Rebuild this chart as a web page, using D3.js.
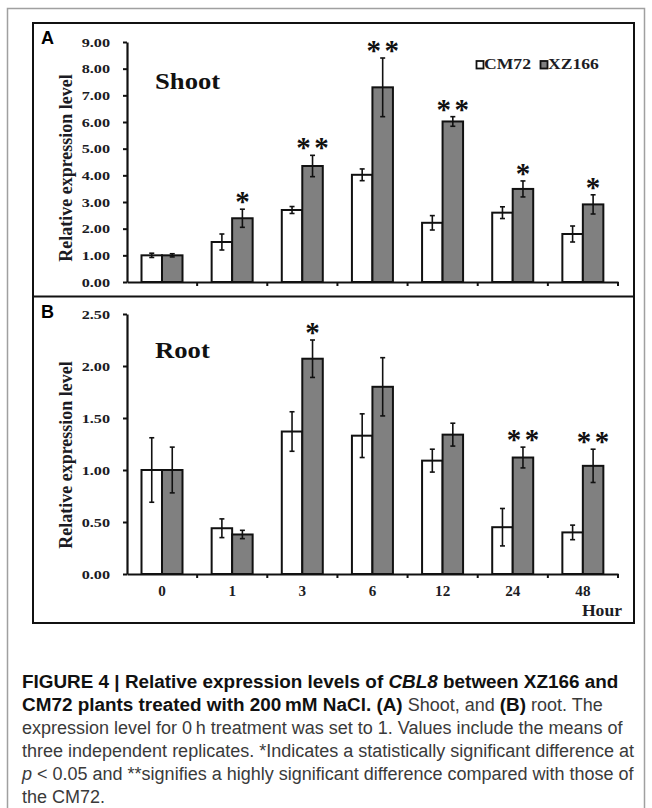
<!DOCTYPE html>
<html>
<head>
<meta charset="utf-8">
<script src="https://cdn.jsdelivr.net/npm/d3@7"></script>
<style>
    body { margin: 0; background: #ffffff; }
</style>
</head>
<body>
<svg id="chart" width="652" height="808"></svg>
<script>
const hours = ["0", "1", "3", "6", "12", "24", "48"];
const series = ["CM72", "XZ166"];

// panel A - shoot
const shootCM72 = [1.00, 1.50, 2.70, 4.02, 2.22, 2.60, 1.80];
const shootCM72Err = [0.08, 0.30, 0.13, 0.22, 0.27, 0.22, 0.30];
const shootXZ166 = [1.00, 2.39, 4.35, 7.30, 6.02, 3.49, 2.91];
const shootXZ166Err = [0.06, 0.34, 0.40, 1.10, 0.18, 0.30, 0.36];
const shootSig = ["", "*", "**", "**", "**", "*", "*"];
const shootTicks = [0, 1, 2, 3, 4, 5, 6, 7, 8, 9];

// panel B - root
const rootCM72 = [1.00, 0.44, 1.37, 1.33, 1.09, 0.45, 0.40];
const rootCM72Err = [0.31, 0.09, 0.19, 0.21, 0.11, 0.18, 0.07];
const rootXZ166 = [1.00, 0.38, 2.07, 1.80, 1.34, 1.12, 1.04];
const rootXZ166Err = [0.22, 0.04, 0.18, 0.28, 0.11, 0.10, 0.16];
const rootSig = ["", "", "*", "", "", "**", "**"];
const rootTicks = [0, 0.5, 1, 1.5, 2, 2.5];

const serif = "'Liberation Serif', 'Times New Roman', serif";
const sans = "'Liberation Sans', Arial, sans-serif";
const colors = { CM72: '#ffffff', XZ166: '#808080' };
const ink = '#1c1c24';

let svg = d3.select('#chart');

// the chart text in the figure is wider than plain Times, stretch it sideways
function stretch(sel, sx) {
    sel.each(function () {
        let t = d3.select(this);
        let x0 = +t.attr('x') || 0;
        t.attr('x', x0 / sx).attr('transform', 'scale(' + sx + ',1)');
    });
}

function serifText(sel, size) {
    return sel.attr('fill', ink)
        .style('font-family', serif)
        .style('font-weight', 'bold')
        .style('font-size', size + 'px');
}

// page frame and chart box
svg.append('path')
    .attr('d', 'M7.5,808 V8.5 H644.5 V808')
    .attr('fill', 'none')
    .attr('stroke', '#a0a0a0')
    .attr('stroke-width', 1.5);

svg.append('rect')
    .attr('x', 33).attr('y', 23)
    .attr('width', 601).attr('height', 600)
    .attr('fill', 'none')
    .attr('stroke', '#111')
    .attr('stroke-width', 2);

svg.append('line')
    .attr('x1', 33).attr('x2', 634)
    .attr('y1', 296.5).attr('y2', 296.5)
    .attr('stroke', '#111')
    .attr('stroke-width', 2);

let x = d3.scaleBand().domain(hours).range([127, 618]).padding(0);
let xSeries = d3.scaleBand().domain(series).range([14.5, 55.5]);

function drawPanel(opt) {
    let y = d3.scaleLinear().domain([0, opt.max]).range([opt.bottom, opt.top]);
    let g = svg.append('g');

    // y axis
    let yAxis = d3.axisLeft(y)
        .tickValues(opt.ticks)
        .tickFormat(d3.format('.2f'))
        .tickSize(4)
        .tickSizeOuter(0)
        .tickPadding(13);
    let ya = g.append('g').attr('transform', 'translate(127,0)').call(yAxis);
    ya.select('.domain').attr('stroke', '#111').attr('stroke-width', 2.2);
    ya.selectAll('.tick line').attr('stroke', '#111').attr('stroke-width', 2);
    serifText(ya.selectAll('.tick text'), 13.5);
    stretch(ya.selectAll('.tick text'), 1.2);

    // x axis, ticks sit on the group boundaries
    let xAxis = d3.axisBottom(x)
        .tickSize(0)
        .tickPadding(12)
        .tickFormat(d => opt.labels ? d : '');
    let xa = g.append('g').attr('transform', 'translate(0,' + opt.bottom + ')').call(xAxis);
    xa.select('.domain').attr('stroke', '#111').attr('stroke-width', 2.2);
    serifText(xa.selectAll('.tick text'), 14);
    stretch(xa.selectAll('.tick text'), 1.08);

    let bounds = hours.map(h => x(h)).concat([x.range()[1]]).slice(1);
    g.selectAll('.bound')
        .data(bounds)
        .enter()
        .append('line')
        .attr('x1', d => d).attr('x2', d => d)
        .attr('y1', opt.bottom).attr('y2', opt.bottom + 4)
        .attr('stroke', '#111')
        .attr('stroke-width', 2);

    let rows = hours.map(function (h, i) {
        return {
            hour: h,
            sig: opt.sig[i],
            vals: [
                { s: 'CM72', v: opt.cm[i], e: opt.cmErr[i] },
                { s: 'XZ166', v: opt.xz[i], e: opt.xzErr[i] }
            ]
        };
    });

    let groups = g.selectAll('.grp')
        .data(rows)
        .enter()
        .append('g')
        .attr('transform', d => 'translate(' + x(d.hour) + ',0)');

    groups.selectAll('rect')
        .data(d => d.vals)
        .enter()
        .append('rect')
        .attr('x', d => xSeries(d.s))
        .attr('y', d => y(d.v))
        .attr('width', xSeries.bandwidth())
        .attr('height', d => y(0) - y(d.v))
        .attr('fill', d => colors[d.s])
        .attr('stroke', '#111')
        .attr('stroke-width', 2);

    // error bars
    let err = groups.selectAll('.err')
        .data(d => d.vals)
        .enter()
        .append('g')
        .attr('transform', d => 'translate(' + (xSeries(d.s) + xSeries.bandwidth() / 2) + ',0)');
    err.append('line')
        .attr('y1', d => y(d.v - d.e)).attr('y2', d => y(d.v + d.e))
        .attr('stroke', '#111').attr('stroke-width', 1.6);
    err.append('line')
        .attr('x1', -2.5).attr('x2', 2.5)
        .attr('y1', d => y(d.v + d.e)).attr('y2', d => y(d.v + d.e))
        .attr('stroke', '#111').attr('stroke-width', 1.6);
    err.append('line')
        .attr('x1', -2.5).attr('x2', 2.5)
        .attr('y1', d => y(d.v - d.e)).attr('y2', d => y(d.v - d.e))
        .attr('stroke', '#111').attr('stroke-width', 1.6);

    // significance stars above the XZ166 bar
    groups.each(function (d) {
        let n = d.sig.length;
        if (!n) return;
        let top = y(d.vals[1].v + d.vals[1].e);
        let cx = xSeries('XZ166') + xSeries.bandwidth() / 2;
        for (let k = 0; k < n; k++) {
            d3.select(this).append('text')
                .attr('x', cx + (k - (n - 1) / 2) * 18)
                .attr('y', top + 2)
                .attr('text-anchor', 'middle')
                .attr('fill', '#111')
                .style('font-family', serif)
                .style('font-weight', 'bold')
                .style('font-size', '29px')
                .text('*');
        }
    });

    // y label
    serifText(svg.append('text'), 18)
        .attr('transform', 'translate(72,' + opt.labelY + ') rotate(-90)')
        .attr('text-anchor', 'middle')
        .text('Relative expression level');

    // panel letter and title
    svg.append('text')
        .attr('x', 41).attr('y', opt.letterY)
        .attr('fill', '#000')
        .style('font-family', sans)
        .style('font-weight', 'bold')
        .style('font-size', '18px')
        .text(opt.letter);

    let title = serifText(svg.append('text'), 23)
        .attr('x', 155).attr('y', opt.titleY)
        .attr('fill', '#111')
        .text(opt.title);
    stretch(title, 1.16);

    return y;
}

drawPanel({
    max: 9, top: 42, bottom: 282, ticks: shootTicks,
    cm: shootCM72, cmErr: shootCM72Err, xz: shootXZ166, xzErr: shootXZ166Err, sig: shootSig,
    labels: false, letter: 'A', letterY: 43.5, title: 'Shoot', titleY: 89, labelY: 168
});

drawPanel({
    max: 2.5, top: 314, bottom: 574, ticks: rootTicks,
    cm: rootCM72, cmErr: rootCM72Err, xz: rootXZ166, xzErr: rootXZ166Err, sig: rootSig,
    labels: true, letter: 'B', letterY: 318, title: 'Root', titleY: 358, labelY: 455
});

// legend
let legend = svg.append('g').attr('transform', 'translate(476,69)');
let lx = 0;
series.forEach(function (s) {
    legend.append('rect')
        .attr('x', lx + 0.5).attr('y', -8)
        .attr('width', 7).attr('height', 7.5)
        .attr('fill', colors[s])
        .attr('stroke', '#111')
        .attr('stroke-width', 1.8);
    let t = serifText(legend.append('text'), 14)
        .attr('x', lx + 8)
        .attr('y', 0)
        .text(s);
    stretch(t, 1.26);
    lx += 64;
});

let hourLabel = serifText(svg.append('text'), 16)
    .attr('x', 622).attr('y', 616)
    .attr('text-anchor', 'end')
    .text('Hour');
stretch(hourLabel, 1.1);

// caption
const captionLines = [
    [["FIGURE 4 | Relative expression levels of ", 'b'], ["CBL8", 'bi'], [" between XZ166 and", 'b']],
    [["CM72 plants treated with 200\u2009mM NaCl. ", 'b'], ["(A)", 'b'], [" Shoot, and ", 'r'], ["(B)", 'b'], [" root. The", 'r']],
    [["expression level for 0\u2009h treatment was set to 1. Values include the means of", 'r']],
    [["three independent replicates. *Indicates a statistically significant difference at", 'r']],
    [["p", 'i'], [" < 0.05 and **signifies a highly significant difference compared with those of", 'r']],
    [["the CM72.", 'r']]
];

let caption = svg.append('g')
    .style('font-family', sans);

captionLines.forEach(function (line, i) {
    let t = caption.append('text')
        .attr('x', 22)
        .attr('y', 688 + i * 23);
    line.forEach(function (part) {
        let bold = part[1].indexOf('b') >= 0;
        t.append('tspan')
            .attr('fill', bold ? '#111' : '#3a3a3a')
            .style('font-size', bold ? '18.9px' : '18px')
            .style('font-weight', bold ? 'bold' : 'normal')
            .style('font-style', part[1].indexOf('i') >= 0 ? 'italic' : 'normal')
            .text(part[0]);
    });
});
</script>
</body>
</html>
